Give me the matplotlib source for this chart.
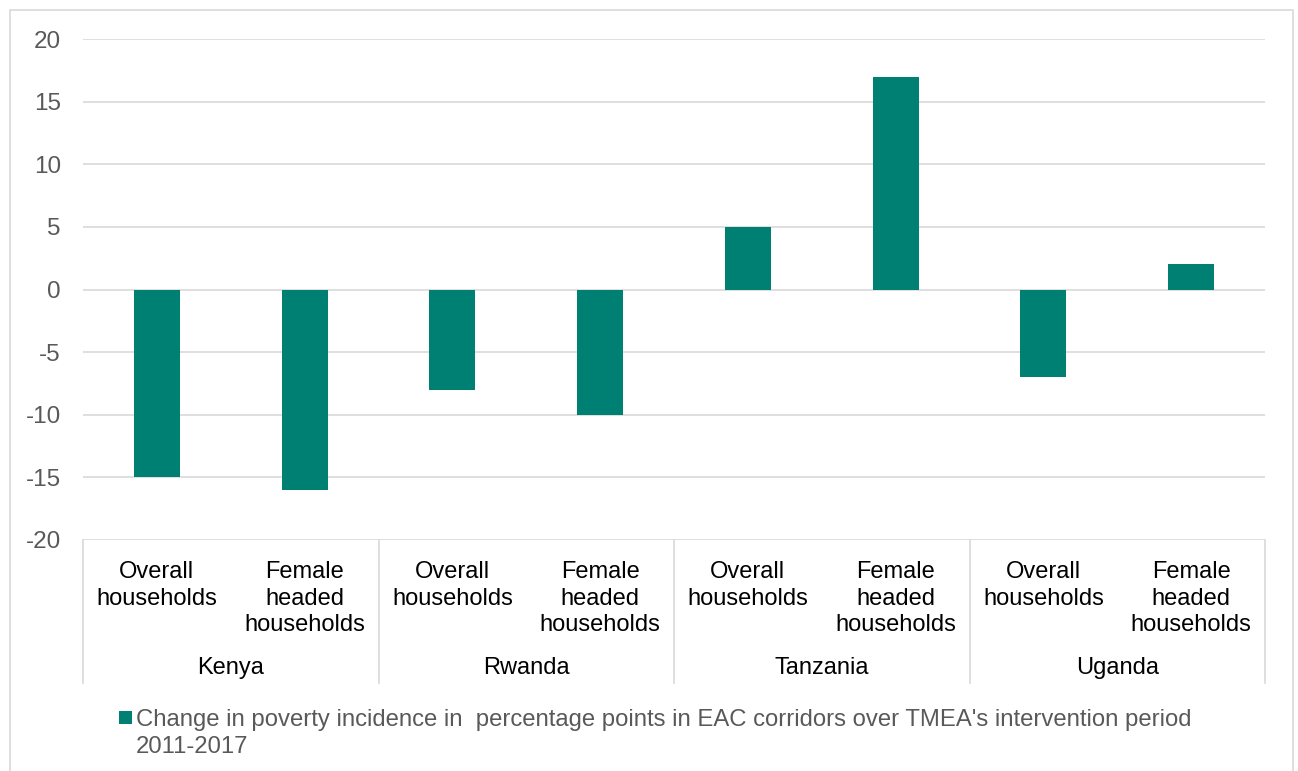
import matplotlib.pyplot as plt
import matplotlib.transforms as mtransforms
from matplotlib.patches import Rectangle

plt.rcParams['font.family'] = ['Liberation Sans', 'DejaVu Sans']

countries = ["Kenya", "Rwanda", "Tanzania", "Uganda"]
groups = ["Overall\nhouseholds", "Female\nheaded\nhouseholds"]
values = [-15, -16, -8, -10, 5, 17, -7, 2]
series_label = ("Change in poverty incidence in  percentage points in EAC corridors "
                "over TMEA's intervention period\n2011-2017")
yticks = [-20, -15, -10, -5, 0, 5, 10, 15, 20]

bar_color = "#008072"
grid_color = "#d9d9d9"
tick_color = "#595959"

W, H = 1298, 771
fig = plt.figure(figsize=(W / 100, H / 100), dpi=100)
ax = fig.add_axes([83 / W, 1 - 540 / H, (1265 - 83) / W, (540 - 39) / H])

x = list(range(len(values)))
ax.bar(x, values, width=0.31, color=bar_color, zorder=2)

ax.set_xlim(-0.5, len(values) - 0.5)
ax.set_ylim(-20, 20)
ax.set_yticks(yticks)
ax.set_yticklabels([str(v) for v in yticks])
ax.tick_params(axis='y', length=0, pad=16, labelsize=17.5, labelcolor=tick_color)
ax.set_xticks([])
ax.grid(axis='y', color=grid_color, linewidth=1.2, zorder=0)
for s in ax.spines.values():
    s.set_visible(False)

# two-level category axis
trans = mtransforms.blended_transform_factory(ax.transData, ax.transAxes)
depth = -(683 - 540) / 501
for i in range(len(countries) + 1):
    ax.plot([i * 2 - 0.5, i * 2 - 0.5], [0, depth], transform=trans,
            color=grid_color, linewidth=1.2, clip_on=False)
for i, c in enumerate(countries):
    for j, g in enumerate(groups):
        ax.text(i * 2 + j, -(561 - 540) / 501, g, transform=trans, ha='center', va='top',
                fontsize=17, color='black', linespacing=1.27)
    ax.text(i * 2 + 0.5, -(668 - 540) / 501, c, transform=trans, ha='center',
            va='center', fontsize=17, color='black')

# legend: square marker next to the first line of the wrapped label
fig.patches.append(Rectangle((119 / W, 1 - 724 / H), 13 / W, 13 / H,
                             transform=fig.transFigure, facecolor=bar_color,
                             edgecolor='none'))
fig.text(136 / W, 1 - 709 / H, series_label, ha='left', va='top', fontsize=17.2,
         color=tick_color, linespacing=1.27)

# outer chart border
fig.patches.append(Rectangle((10 / W, -0.01), (1293 - 10) / W, 1 - 10 / H + 0.01,
                             transform=fig.transFigure, fill=False,
                             edgecolor=grid_color, linewidth=1.2))

fig.savefig("out.png", dpi=100)
